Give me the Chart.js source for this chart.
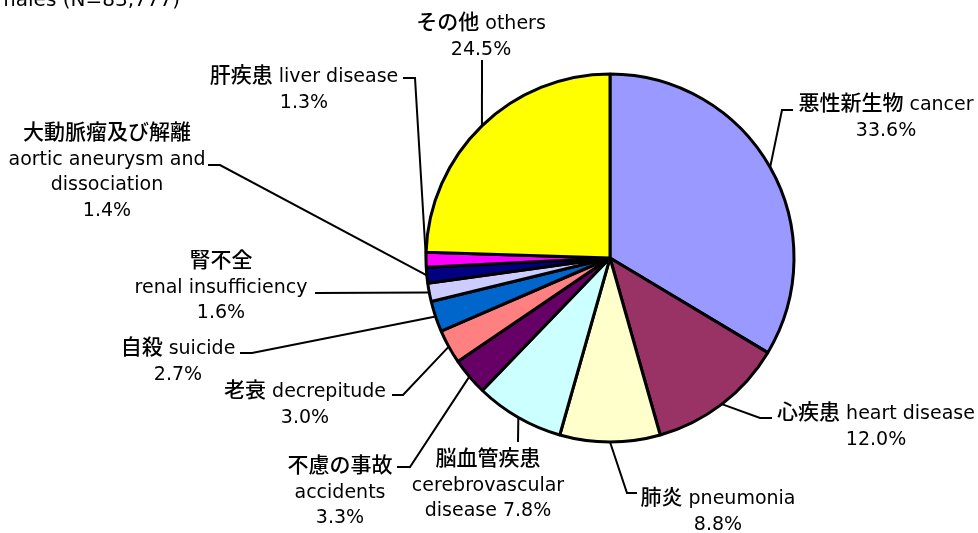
<!DOCTYPE html>
<html>
<head>
<meta charset="utf-8">
<script src="https://cdn.jsdelivr.net/npm/chart.js@4/dist/chart.umd.min.js"></script>
<style>
  html, body { margin: 0; padding: 0; background: #fff; }
  #wrap { width: 978px; height: 533px; position: relative; }
</style>
</head>
<body>
<div id="wrap"><canvas id="deathPie"></canvas></div>
<script>
// causes of death, share of all deaths (%)
const jaNames = ['悪性新生物', '心疾患', '肺炎', '脳血管疾患', '不慮の事故', '老衰', '自殺', '腎不全', '大動脈瘤及び解離', '肝疾患', 'その他'];
const enNames = ['cancer', 'heart disease', 'pneumonia', 'cerebrovascular disease', 'accidents', 'decrepitude', 'suicide', 'renal insufficiency', 'aortic aneurysm and dissociation', 'liver disease', 'others'];
const shares = [33.6, 12.0, 8.8, 7.8, 3.3, 3.0, 2.7, 1.6, 1.4, 1.3, 24.5];
const sliceColors = ['#9999FF', '#993366', '#FFFFCC', '#CCFFFF', '#660066', '#FF8080', '#0066CC', '#CCCCFF', '#000080', '#FF00FF', '#FFFF00'];
const titleText = 'Females (N=83,777)';

const LATIN_FONT = '19px "DejaVu Sans", sans-serif';
const CJK_FONT = '500 21px "Noto Sans CJK JP", sans-serif';
const LH = 25.5;

// where each label sits and how its leader line bends (layout only)
const labelLayout = [
    { x: 886, y: 103, lines: (j, e, p) => [j + ' ' + e, p], bend: [[782, 110], [793, 110]] },
    { x: 876, y: 412, lines: (j, e, p) => [j + ' ' + e, p], bend: [[760, 418], [772, 418]] },
    { x: 718, y: 497, lines: (j, e, p) => [j + ' ' + e, p], bend: [[627, 493], [637, 493]] },
    { x: 488, y: 458, lines: (j, e, p) => [j, e.split(' ')[0], e.split(' ')[1] + ' ' + p], bend: [[518, 442]] },
    { x: 340, y: 465, lines: (j, e, p) => [j, e, p], bend: [[410, 467], [397, 467]] },
    { x: 305, y: 390, lines: (j, e, p) => [j + ' ' + e, p], bend: [[403, 395], [392, 395]] },
    { x: 178, y: 347, lines: (j, e, p) => [j + ' ' + e, p], bend: [[252, 353], [240, 353]] },
    { x: 221, y: 260, lines: (j, e, p) => [j, e, p], bend: [[315, 293]] },
    { x: 107, y: 132, lines: (j, e, p) => [j, e.split(' ').slice(0, 3).join(' '), e.split(' ')[3], p], bend: [[220, 165], [208, 165]] },
    { x: 304, y: 75, lines: (j, e, p) => [j + ' ' + e, p], bend: [[415, 78], [403, 78]] },
    { x: 481, y: 22, lines: (j, e, p) => [j + ' ' + e, p], bend: [[482, 60]] }
];

const CJK_RE = /[\u3000-\u9fff\uff00-\uffef]/;

// draw a line of mixed Japanese / Latin text centred on cx, sharing one baseline
function drawMixed(ctx, text, cx, cy) {
    const runs = text.match(/[\u3000-\u9fff\uff00-\uffef]+|[^\u3000-\u9fff\uff00-\uffef]+/g) || [];
    const parts = runs.map((r) => {
        const cjk = CJK_RE.test(r);
        ctx.font = cjk ? CJK_FONT : LATIN_FONT;
        return { r, cjk, w: ctx.measureText(r).width };
    });
    const total = parts.reduce((s, p) => s + p.w, 0);
    let x = cx - total / 2;
    ctx.textAlign = 'left';
    ctx.textBaseline = 'alphabetic';
    parts.forEach((p) => {
        ctx.font = p.cjk ? CJK_FONT : LATIN_FONT;
        ctx.fillText(p.r, x, cy + 7);
        x += p.w;
    });
}

const leaderLabels = {
    id: 'leaderLabels',
    afterDatasetsDraw(chart) {
        const ctx = chart.ctx;
        const arcs = chart.getDatasetMeta(0).data;
        ctx.save();
        ctx.strokeStyle = '#000';
        ctx.lineWidth = 2;
        arcs.forEach((arc, i) => {
            const { x, y, startAngle, endAngle, outerRadius } = arc.getProps(['x', 'y', 'startAngle', 'endAngle', 'outerRadius'], true);
            const mid = (startAngle + endAngle) / 2;
            const lay = labelLayout[i];
            ctx.beginPath();
            ctx.moveTo(x + Math.cos(mid) * outerRadius, y + Math.sin(mid) * outerRadius);
            lay.bend.forEach(([bx, by]) => ctx.lineTo(bx, by));
            ctx.stroke();
        });
        ctx.fillStyle = '#000';
        arcs.forEach((arc, i) => {
            const lay = labelLayout[i];
            const pct = shares[i].toFixed(1) + '%';
            lay.lines(jaNames[i], enNames[i], pct).forEach((t, k) => {
                drawMixed(ctx, t, lay.x, lay.y + k * LH);
            });
        });
        ctx.font = '20px "DejaVu Sans", sans-serif';
        ctx.textAlign = 'right';
        ctx.textBaseline = 'alphabetic';
        ctx.fillText(titleText, 180, 6);
        ctx.restore();
    }
};

new Chart(document.getElementById('deathPie'), {
    type: 'pie',
    data: {
        labels: jaNames.map((j, i) => j + ' ' + enNames[i]),
        datasets: [{
            data: shares,
            backgroundColor: sliceColors,
            borderColor: '#000',
            borderWidth: 3,
            borderAlign: 'center'
        }]
    },
    options: {
        responsive: true,
        maintainAspectRatio: false,
        animation: false,
        radius: 184,
        layout: { padding: { left: 426, right: 184, top: 74, bottom: 91 } },
        plugins: {
            legend: { display: false },
            tooltip: { enabled: false }
        }
    },
    plugins: [leaderLabels]
});
</script>
</body>
</html>
